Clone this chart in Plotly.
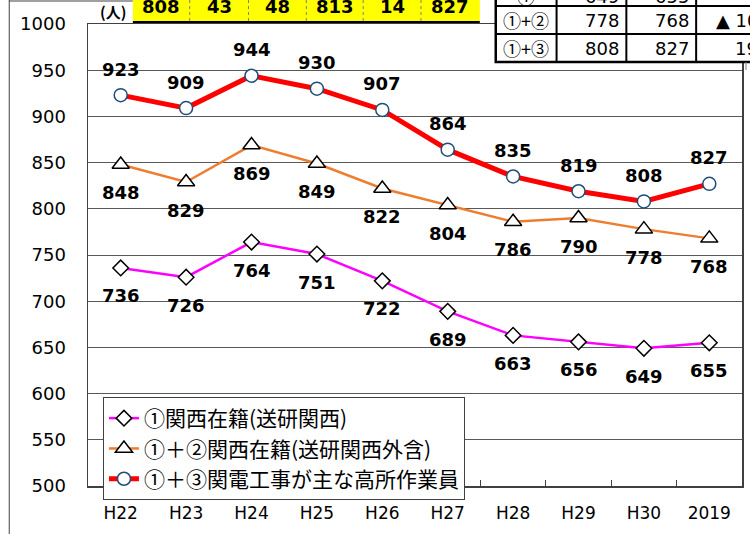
import plotly.graph_objects as go

# ---------------- data ----------------
categories = ["H22", "H23", "H24", "H25", "H26", "H27", "H28", "H29", "H30", "2019"]
kansai = [736, 726, 764, 751, 722, 689, 663, 656, 649, 655]          # ① 関西在籍(送研関西)
kansai_plus2 = [848, 829, 869, 849, 822, 804, 786, 790, 778, 768]    # ①+② 関西在籍(送研関西外含)
kansai_plus3 = [923, 909, 944, 930, 907, 864, 835, 819, 808, 827]    # ①+③ 関電工事が主な高所作業員
series_names = ["①関西在籍(送研関西)", "①＋②関西在籍(送研関西外含)", "①＋③関電工事が主な高所作業員"]
header_values = ["808", "43", "48", "813", "14", "827"]
table_rows = ["①", "①+②", "①+③"]
y_ticks = [500, 550, 600, 650, 700, 750, 800, 850, 900, 950, 1000]

# ---------------- layout geometry (window pixels) ----------------
W, H = 750, 534
PLOT_X0, PLOT_X1, PLOT_Y0, PLOT_Y1 = 88, 744, 24, 486
L, T = PLOT_X0, PLOT_Y0
R, B = W - PLOT_X1, H - PLOT_Y1
PW, PH = PLOT_X1 - PLOT_X0, PLOT_Y1 - PLOT_Y0


def px(x):
    return (x - PLOT_X0) / PW


def py(y):
    return (PLOT_Y1 - y) / PH


NUM_FONT = "DejaVu Sans, Verdana, sans-serif"
JP_FONT = "Noto Sans CJK JP, sans-serif"

fig = go.Figure()

fig.add_trace(go.Scatter(
    x=categories, y=kansai, name=series_names[0], mode="lines+markers",
    line=dict(color="#FF00FF", width=2.5),
    marker=dict(symbol="diamond", size=12, color="white", line=dict(color="#000000", width=1.5)),
))
fig.add_trace(go.Scatter(
    x=categories, y=kansai_plus2, name=series_names[1], mode="lines+markers",
    line=dict(color="#ED7D31", width=2.5),
    marker=dict(symbol="triangle-up", size=15, color="white", line=dict(color="#000000", width=1.5)),
))
fig.add_trace(go.Scatter(
    x=categories, y=kansai_plus3, name=series_names[2], mode="lines+markers",
    line=dict(color="#FF0000", width=5),
    marker=dict(symbol="circle", size=13, color="white", line=dict(color="#1F4E79", width=1.5)),
))

annotations = []
# data labels (x given as category index so that "2019" is not read as a number)
for vals, shift in ((kansai, -28), (kansai_plus2, -28), (kansai_plus3, 26)):
    for i, v in enumerate(vals):
        annotations.append(dict(
            x=i, y=v, xref="x", yref="y", text=str(v), showarrow=False,
            yshift=shift, font=dict(family=NUM_FONT, size=18, color="#000000", weight="bold"),
        ))

shapes = []
# outer chart border (left / top)
shapes.append(dict(type="line", xref="paper", yref="paper", x0=px(9), x1=px(9), y0=py(0), y1=py(540),
                   line=dict(color="#404040", width=1)))
shapes.append(dict(type="line", xref="paper", yref="paper", x0=px(9), x1=px(133), y0=py(1), y1=py(1),
                   line=dict(color="#404040", width=1)))

# yellow header row
cell_edges = [133, 190, 249, 307, 364, 422, 481]
shapes.append(dict(type="rect", xref="paper", yref="paper", x0=px(133), x1=px(481), y0=py(-5), y1=py(22),
                   fillcolor="#FFFF00", line=dict(width=0), layer="above"))
for e in cell_edges[1:-1]:
    shapes.append(dict(type="line", xref="paper", yref="paper", x0=px(e), x1=px(e), y0=py(0), y1=py(22),
                       line=dict(color="#808080", width=1, dash="dot")))
shapes.append(dict(type="line", xref="paper", yref="paper", x0=px(133), x1=px(481), y0=py(22), y1=py(22),
                   line=dict(color="#000000", width=2)))
for i, v in enumerate(header_values):
    cx = (cell_edges[i] + cell_edges[i + 1]) / 2
    annotations.append(dict(x=px(cx), y=py(6), xref="paper", yref="paper", text=v, showarrow=False,
                            xanchor="center", yanchor="middle",
                            font=dict(family=NUM_FONT, size=18, color="#000000", weight="bold")))
annotations.append(dict(x=px(113), y=py(12), xref="paper", yref="paper", text="(人)", showarrow=False,
                        xanchor="center", yanchor="middle",
                        font=dict(family=JP_FONT, size=15, color="#000000", weight="bold")))

# top-right table
tx = [497, 558, 628, 698, 770]
ty = [-22, 6, 34, 62]
row_text_y = [-4, 20, 48]
shapes.append(dict(type="rect", xref="paper", yref="paper", x0=px(tx[0]), x1=px(tx[-1]), y0=py(ty[0]), y1=py(ty[-1]),
                   fillcolor="white", line=dict(color="#000000", width=2.5), layer="above"))
for yy in ty[1:-1]:
    shapes.append(dict(type="line", xref="paper", yref="paper", x0=px(tx[0]), x1=px(tx[-1]), y0=py(yy), y1=py(yy),
                       line=dict(color="#000000", width=2)))
for xx in tx[1:-1]:
    shapes.append(dict(type="line", xref="paper", yref="paper", x0=px(xx), x1=px(xx), y0=py(ty[0]), y1=py(ty[-1]),
                       line=dict(color="#000000", width=2)))
shapes.append(dict(type="line", xref="paper", yref="paper", x0=px(748), x1=px(748), y0=py(62), y1=py(70),
                   line=dict(color="#808080", width=1)))

row_series = [kansai, kansai_plus2, kansai_plus3]
for r, (lab, ser) in enumerate(zip(table_rows, row_series)):
    cy = row_text_y[r]
    f = dict(family=NUM_FONT, size=18, color="#000000")
    annotations.append(dict(x=px((tx[0] + tx[1]) / 2), y=py(cy), xref="paper", yref="paper", text=lab,
                            showarrow=False, xanchor="center", yanchor="middle",
                            font=dict(family=JP_FONT, size=18, color="#000000")))
    annotations.append(dict(x=px(tx[2] - 5), y=py(cy), xref="paper", yref="paper", text=str(ser[-2]),
                            showarrow=False, xanchor="right", yanchor="middle", font=f))
    annotations.append(dict(x=px(tx[3] - 5), y=py(cy), xref="paper", yref="paper", text=str(ser[-1]),
                            showarrow=False, xanchor="right", yanchor="middle", font=f))
    if r > 0:
        d = ser[-1] - ser[-2]
        txt = ("▲ " + str(-d)) if d < 0 else str(d)
        annotations.append(dict(x=px(762), y=py(cy), xref="paper", yref="paper", text=txt,
                                showarrow=False, xanchor="right", yanchor="middle", font=f))

fig.update_layout(
    width=W, height=H,
    margin=dict(l=L, r=R, t=T, b=B, pad=0),
    paper_bgcolor="white", plot_bgcolor="white",
    showlegend=True,
    legend=dict(
        x=px(103), y=py(397), xanchor="left", yanchor="top",
        bgcolor="white", bordercolor="#404040", borderwidth=1,
        font=dict(family=JP_FONT, size=21, color="#000000"),
        itemwidth=30, tracegroupgap=0, traceorder="normal",
    ),
    xaxis=dict(
        type="category", categoryorder="array", categoryarray=categories,
        range=[-0.5, len(categories) - 0.5], autorange=False,
        showline=True, linecolor="#404040", linewidth=1.5, mirror=True,
        ticks="inside", tickson="boundaries", ticklen=6, tickcolor="#404040",
        showgrid=False, zeroline=False, tickangle=0,
        tickfont=dict(family=NUM_FONT, size=17, color="#000000"),
        ticklabelstandoff=11,
    ),
    yaxis=dict(
        range=[500, 1000], autorange=False, tickvals=y_ticks,
        showline=True, linecolor="#404040", linewidth=1.5, mirror=True,
        ticks="", showgrid=True, gridcolor="#595959", gridwidth=1, zeroline=False,
        tickfont=dict(family=NUM_FONT, size=18, color="#000000"),
        ticklabelstandoff=17,
    ),
    shapes=shapes,
    annotations=annotations,
)

# remove the default 8px page margin so the figure fills the window exactly
fig.write_html(
    "out.html",
    config={"displayModeBar": False, "staticPlot": True},
    post_script="document.body.style.margin='0';document.body.style.overflow='hidden';",
)
